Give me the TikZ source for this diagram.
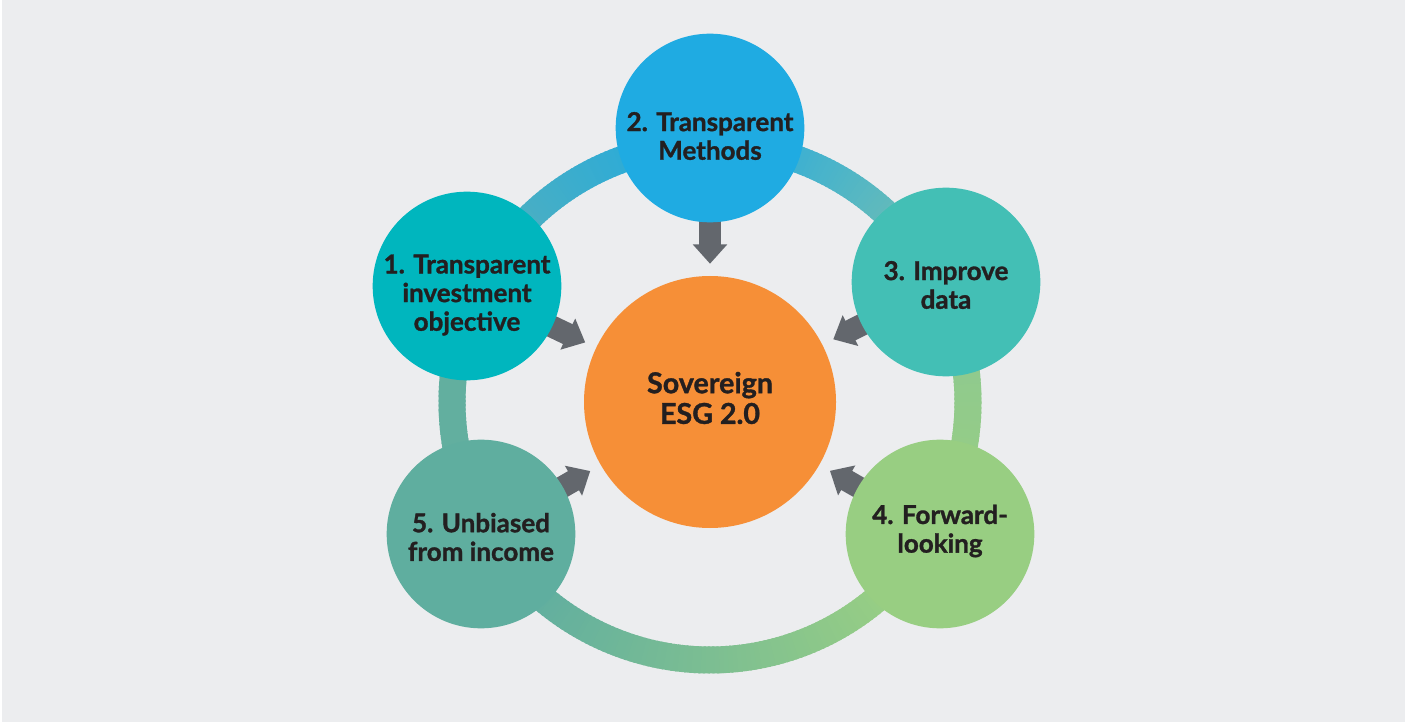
\documentclass[tikz,border=0pt]{standalone}
\usepackage{fontspec}
\setmainfont{Lato}[BoldFeatures={FakeBold=1.2}]
\usetikzlibrary{arrows.meta,calc}
\pgfdeclarelayer{backl}
\pgfdeclarelayer{ringl}
\pgfdeclarelayer{arrowl}
\pgfsetlayers{backl,ringl,arrowl,main}
\definecolor{bgc}{HTML}{ECEDEF}
\definecolor{cblue}{HTML}{1FABE2}
\definecolor{cteal}{HTML}{00B6BE}
\definecolor{cturq}{HTML}{43BFB5}
\definecolor{cgreen}{HTML}{98CE82}
\definecolor{csea}{HTML}{5FAE9F}
\definecolor{corange}{HTML}{F68F37}
\definecolor{agray}{HTML}{63676D}
\definecolor{txt}{HTML}{231F20}
\definecolor{rA}{HTML}{8FCA8E}
\definecolor{rB}{HTML}{94CC88}
\definecolor{rC}{HTML}{96CD85}
\definecolor{rD}{HTML}{62AF9F}
\definecolor{rE}{HTML}{52B0BE}
\definecolor{rF}{HTML}{2BABD8}
\definecolor{rG}{HTML}{1FABE2}
\definecolor{rH}{HTML}{38AFD5}
\definecolor{rI}{HTML}{6CBDB5}
\tikzset{
  outer/.style={circle, inner sep=0pt, minimum size=141.5pt},
  lbl/.style={align=center, text=txt, inner sep=0pt, font=\fontsize{19.5}{21.5}\selectfont\bfseries},
  clbl/.style={align=center, text=txt, inner sep=0pt, font=\fontsize{21.5}{23}\selectfont\bfseries},
  toc/.style={draw=agray, line width=16.5pt, -{Triangle[width=25pt,length=14.5pt]}, shorten >=9pt, shorten <=-8pt},
}
\begin{document}
\begin{tikzpicture}[x=0.75pt,y=-0.75pt]
\begin{pgfonlayer}{backl}
\fill[white] (0,0) rectangle (1406,723);
\fill[bgc] (1.5,0) rectangle (1404.5,721.5);
\end{pgfonlayer}
\useasboundingbox (0,0) rectangle (1406,723);
\coordinate (rc) at (710,402);
% circles
\node[outer, fill=cblue] (c2) at (710,128) {};
\node[outer, fill=cteal] (c1) at (467,286) {};
\node[outer, fill=cturq] (c3) at (946,282) {};
\node[outer, fill=cgreen] (c4) at (940,534) {};
\node[outer, fill=csea] (c5) at (481,534) {};
\node[circle, inner sep=0pt, minimum size=189pt, fill=corange] (c0) at (710,402) {};
% labels
\node[lbl] (t2) at (710,136) {2. Transparent\\Methods};
\node[lbl] (t1) at (467,295) {1. Transparent\\investment\\objective};
\node[lbl] (t3) at (946,285) {3. Improve\\data};
\node[lbl] (t4) at (940,531) {4. Forward-\\looking};
\node[lbl] (t5) at (481,537) {5. Unbiased\\from income};
\node[clbl] (t0) at (710,398) {Sovereign\\ESG 2.0};
% arrows
\begin{pgfonlayer}{arrowl}
\foreach \s in {c1,c2,c3,c4,c5}{
  \draw[toc] (\s) -- (c0);
}
\end{pgfonlayer}
% ring
\begin{pgfonlayer}{ringl}
\foreach \sa/\ea/\ca/\cb in {-10/10/rA/rB, 10/50/rB/rC, 50/130/rC/rD, 130/190/rD/rD, 190/215/rD/rE, 215/255/rE/rF, 255/270/rF/rG, 270/285/rG/rH, 285/320/rH/rI, 320/350/rI/rA}{
  \pgfmathtruncatemacro\n{\ea-\sa-1}
  \foreach \k in {0,...,\n}{
    \pgfmathsetmacro\aa{\sa+\k}
    \pgfmathtruncatemacro\p{100*(\k+0.5)/(\ea-\sa)}
    \colorlet{segc}{\cb!\p!\ca}
    \draw[segc, line width=20.25pt] (rc) ++(\aa:258) arc[start angle=\aa, end angle=\aa+1.5, radius=258];
  }
}
\end{pgfonlayer}
\end{tikzpicture}
\end{document}
